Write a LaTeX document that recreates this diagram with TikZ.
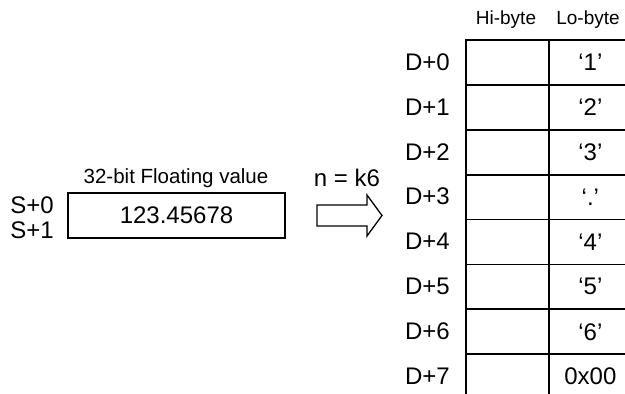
\documentclass[tikz,border=0pt]{standalone}
\usepackage{fontspec}
\setmainfont{Liberation Sans}
\begin{document}
\begin{tikzpicture}[x=1pt,y=-1pt,
  big/.style={font=\fontsize{24}{24}\selectfont, inner sep=0pt},
  mid/.style={font=\fontsize{20.5}{20.5}\selectfont, inner sep=0pt},
  small/.style={font=\fontsize{19}{19}\selectfont, inner sep=0pt},
  cell/.style={draw, line width=1.8pt, minimum width=83pt, minimum height=44.9pt,
    inner sep=0pt, anchor=north west, font=\fontsize{24}{24}\selectfont},
  valbox/.style={draw, line width=1.5pt, minimum width=217pt, minimum height=45pt,
    inner sep=0pt, font=\fontsize{24}{24}\selectfont},
  blockarrow/.style={draw, line width=1.3pt, line join=miter}]
\useasboundingbox (0,0) rectangle (625,394);
\clip (0,0) rectangle (625,394);

% column headers
\node[small] (hi) at (506,20) {Hi-byte};
\node[small] (lo) at (588,20) {Lo-byte};

% table
\foreach \k/\v in {0/‘1’,1/‘2’,2/‘3’,3/‘.’,4/‘4’,5/‘5’,6/‘6’,7/0x00}{
  \node[cell] (h\k) at (465,39+44.9*\k) {};
  \node[cell] (l\k) at (548,39+44.9*\k) {\v};
  \node[big] (d\k) at (427.5,62+44.9*\k) {D+\k};
}

% source
\node[mid] (title) at (176,178) {32-bit Floating value};
\node[valbox] (val) at (176.5,215.5) {123.45678};
\node[big] (s0) at (32,205) {S+0};
\node[big] (s1) at (32,230) {S+1};

% arrow
\node[big] (n) at (347,178) {n = k6};
\coordinate (a) at (317,215.5);
\draw[blockarrow] (a) ++(0,-10.5) -- ++(50,0) -- ++(0,-10) -- ++(15,20.5)
  -- ++(-15,20.5) -- ++(0,-10) -- ++(-50,0) -- cycle;
\end{tikzpicture}
\end{document}
